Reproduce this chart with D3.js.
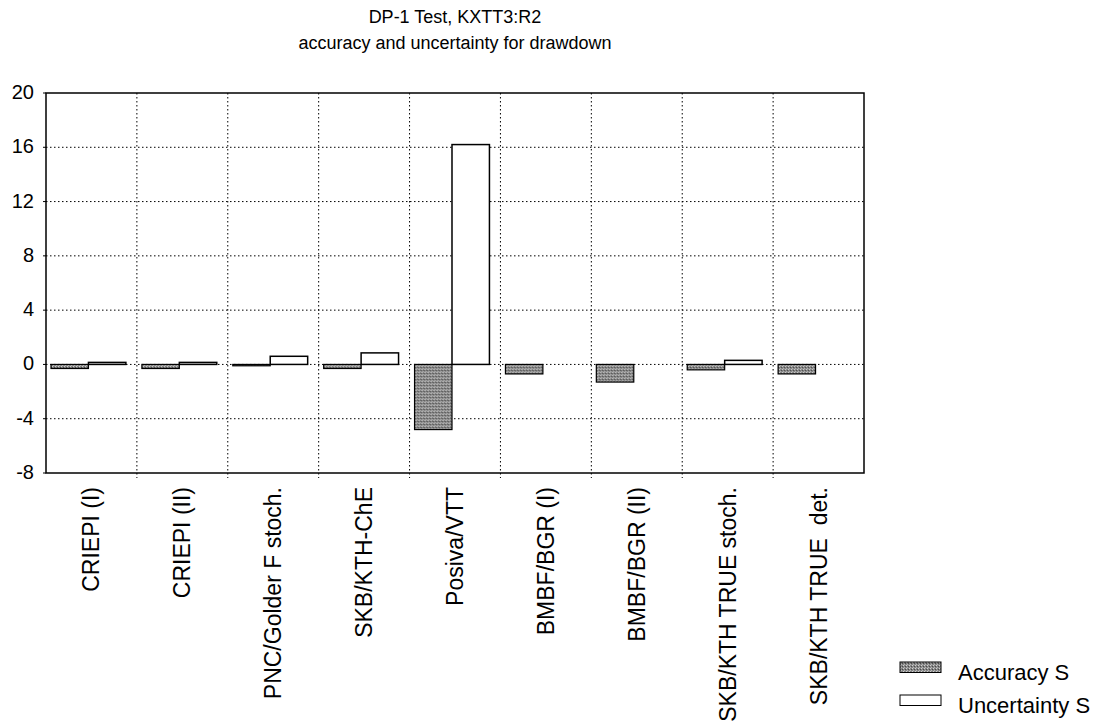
<!DOCTYPE html>
<html>
<head>
<meta charset="utf-8">
<script src="https://cdn.jsdelivr.net/npm/d3@7"></script>
<style>
  body { margin: 0; background: #fff; }
  text { font-family: "Liberation Sans", Arial, sans-serif; fill: #000; }
</style>
</head>
<body>
<div id="chart"></div>
<script>
// Data
var categories = ["CRIEPI (I)", "CRIEPI (II)", "PNC/Golder F stoch.", "SKB/KTH-ChE", "Posiva/VTT",
                  "BMBF/BGR (I)", "BMBF/BGR (II)", "SKB/KTH TRUE stoch.", "SKB/KTH TRUE  det."];
var accuracyS = [-0.3, -0.3, -0.1, -0.3, -4.8, -0.7, -1.3, -0.4, -0.7];
var uncertaintyS = [0.15, 0.15, 0.6, 0.85, 16.2, 0, 0, 0.3, 0];
var yTicks = [20, 16, 12, 8, 4, 0, -4, -8];
var seriesNames = ["Accuracy S", "Uncertainty S"];

var W = 1107, H = 724;
var margin = {left: 46, right: 243, top: 93, bottom: 251};
var width = W - margin.left - margin.right;
var height = H - margin.top - margin.bottom;

var svg = d3.select("#chart").append("svg")
    .attr("width", W)
    .attr("height", H);

// stipple pattern for accuracy bars
var defs = svg.append("defs");
var pat = defs.append("pattern")
    .attr("id", "stipple")
    .attr("width", 3).attr("height", 3)
    .attr("patternUnits", "userSpaceOnUse");
pat.append("rect").attr("width", 3).attr("height", 3).attr("fill", "#858585");
pat.append("rect").attr("x", 0).attr("y", 0).attr("width", 1).attr("height", 1).attr("fill", "#cfcfcf");
pat.append("rect").attr("x", 2).attr("y", 1).attr("width", 1).attr("height", 1).attr("fill", "#4a4a4a");
pat.append("rect").attr("x", 1).attr("y", 2).attr("width", 1).attr("height", 1).attr("fill", "#b5b5b5");

var g = svg.append("g").attr("transform", "translate(" + margin.left + "," + margin.top + ")");

var x = d3.scaleBand().domain(categories).range([0, width]);
var xs = d3.scaleBand().domain(seriesNames).range([5, x.bandwidth() - 11]).padding(0);
var y = d3.scaleLinear().domain([-8, 20]).range([height, 0]);

// Titles
svg.append("text")
    .attr("x", 455).attr("y", 23)
    .attr("text-anchor", "middle")
    .style("font-size", "18px")
    .text("DP-1 Test, KXTT3:R2");
svg.append("text")
    .attr("x", 455).attr("y", 49)
    .attr("text-anchor", "middle")
    .style("font-size", "18px")
    .text("accuracy and uncertainty for drawdown");

// Grid lines
g.selectAll(".hgrid")
    .data(yTicks.filter(function(d) { return d > -8 && d < 20; }))
    .enter().append("line")
    .attr("class", "hgrid")
    .attr("x1", 0).attr("x2", width)
    .attr("y1", function(d) { return y(d); })
    .attr("y2", function(d) { return y(d); })
    .attr("stroke", "#000")
    .attr("stroke-width", 1)
    .attr("stroke-dasharray", "1.5,2.5");

g.selectAll(".vgrid")
    .data(categories.slice(1))
    .enter().append("line")
    .attr("class", "vgrid")
    .attr("x1", function(d) { return x(d); })
    .attr("x2", function(d) { return x(d); })
    .attr("y1", 0).attr("y2", height + 5)
    .attr("stroke", "#000")
    .attr("stroke-width", 1)
    .attr("stroke-dasharray", "1.5,2.5");

// Bars
var cat = g.selectAll(".cat")
    .data(categories)
    .enter().append("g")
    .attr("class", "cat")
    .attr("transform", function(d) { return "translate(" + x(d) + ",0)"; });

cat.append("rect")
    .attr("x", xs("Accuracy S"))
    .attr("width", xs.bandwidth())
    .attr("y", function(d, i) { return y(Math.max(0, accuracyS[i])); })
    .attr("height", function(d, i) { return Math.abs(y(accuracyS[i]) - y(0)); })
    .attr("fill", "url(#stipple)")
    .attr("stroke", "#000")
    .attr("stroke-width", 1.2);

cat.append("rect")
    .attr("x", xs("Uncertainty S"))
    .attr("width", xs.bandwidth())
    .attr("y", function(d, i) { return y(Math.max(0, uncertaintyS[i])); })
    .attr("height", function(d, i) { return Math.abs(y(uncertaintyS[i]) - y(0)); })
    .attr("fill", "#fff")
    .attr("stroke", "#000")
    .attr("stroke-width", 1.5)
    .style("display", function(d, i) { return uncertaintyS[i] === 0 ? "none" : null; });

// Frame
g.append("rect")
    .attr("x", 0).attr("y", 0)
    .attr("width", width).attr("height", height)
    .attr("fill", "none")
    .attr("stroke", "#000")
    .attr("stroke-width", 1.5);

// Y axis labels
g.selectAll(".ylab")
    .data(yTicks)
    .enter().append("text")
    .attr("class", "ylab")
    .attr("x", -12)
    .attr("y", function(d) { return y(d); })
    .attr("dy", "0.3em")
    .attr("text-anchor", "end")
    .style("font-size", "20px")
    .text(function(d) { return d; });

g.selectAll(".ytick")
    .data(yTicks)
    .enter().append("line")
    .attr("class", "ytick")
    .attr("x1", -3).attr("x2", 0)
    .attr("y1", function(d) { return y(d); })
    .attr("y2", function(d) { return y(d); })
    .attr("stroke", "#000");

// X labels
g.selectAll(".xlab")
    .data(categories)
    .enter().append("text")
    .attr("class", "xlab")
    .attr("transform", function(d) {
        return "translate(" + (x(d) + x.bandwidth() / 2 + 8) + "," + (height + 14) + ") rotate(-90)";
    })
    .attr("text-anchor", "end")
    .style("font-size", "23px")
    .style("white-space", "pre")
    .text(function(d) { return d; });

// Legend
var legend = svg.append("g").attr("transform", "translate(900,662)");
var li = legend.selectAll(".li")
    .data(seriesNames)
    .enter().append("g")
    .attr("class", "li")
    .attr("transform", function(d, i) { return "translate(0," + (i * 33) + ")"; });
li.append("rect")
    .attr("width", 41).attr("height", 10.5)
    .attr("fill", function(d, i) { return i === 0 ? "url(#stipple)" : "#fff"; })
    .attr("stroke", "#000")
    .attr("stroke-width", 1);
li.append("text")
    .attr("x", 58).attr("y", 18)
    .style("font-size", "22px")
    .text(function(d) { return d; });
</script>
</body>
</html>
